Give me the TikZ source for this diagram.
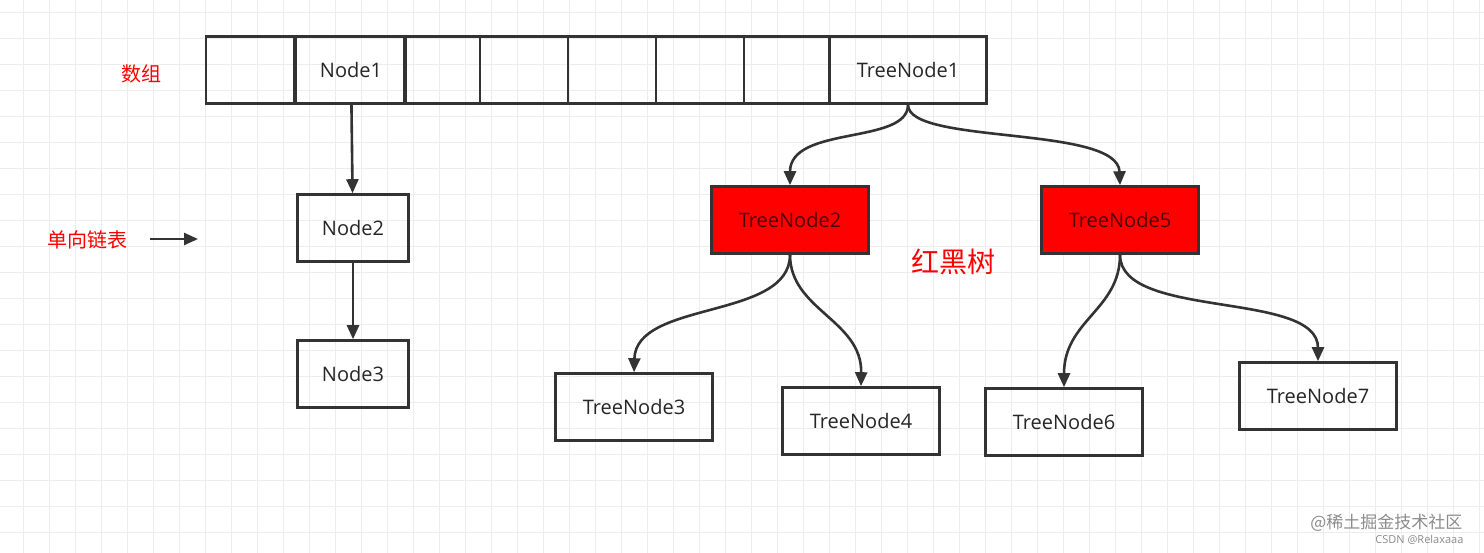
\documentclass[tikz,border=0pt]{standalone}
\usepackage{fontspec}
\setmainfont{Open Sans}
\newfontfamily\cjk{Noto Sans CJK SC}
\usetikzlibrary{arrows.meta}
\begin{document}
\begin{tikzpicture}[x=1pt,y=-1pt,
  box/.style={draw=black!80,line width=2.6pt,minimum width=#1,minimum height=67pt,inner sep=0pt,font=\fontsize{20}{24}\selectfont,text=black!85},
  box/.default=111pt,
  rbox/.style={box=157pt,fill=red,text=black!70!red},
  tbox/.style={box=157pt},
  arr/.style={draw=black!80,line width=2.6pt,-{Triangle[length=14pt,width=12pt]}},
  lab/.style={text=red,font=\cjk\fontsize{20}{24}\selectfont}]
\useasboundingbox (0,0) rectangle (1484,553);
\fill[white] (0,0) rectangle (1484,553);
\foreach \x in {23,49,...,1484} \draw[black!7,line width=0.8pt] (\x,0) -- (\x,553);
\foreach \y in {12,38,...,553} \draw[black!7,line width=0.8pt] (0,\y) -- (1484,\y);
% array
\node[box=88pt] (a0) at (250,70) {};
\node[box=76pt] (a2) at (442,70) {};
\node[box=88pt] (a3) at (524,70) {};
\node[box=88pt] (a4) at (612,70) {};
\node[box=88pt] (a5) at (700,70) {};
\node[box=86pt] (a6) at (787,70) {};
\node[tbox] (t1) at (908,70) {TreeNode1};
\node[box=110pt] (n1) at (351,70) {Node1};
\node[box] (n2) at (353,228) {Node2};
\node[box] (n3) at (353,374) {Node3};
\node[rbox] (t2) at (790,220) {TreeNode2};
\node[rbox] (t5) at (1120,220) {TreeNode5};
\node[tbox] (t3) at (634,407) {TreeNode3};
\node[tbox] (t4) at (861,421) {TreeNode4};
\node[tbox] (t6) at (1064,422) {TreeNode6};
\node[tbox] (t7) at (1318,396) {TreeNode7};
\draw[arr] (n1) -- (n2);
\draw[arr] (n2) -- (n3);
\draw[arr] (t1.south) .. controls (908,145) and (790,125) .. (t2.north);
\draw[arr] (t1.south) .. controls (908,145) and (1118,125) .. (t5.north);
\draw[arr] (t2.south) .. controls (790,320) and (636,300) .. (t3.north);
\draw[arr] (t2.south) .. controls (790,310) and (862,320) .. (t4.north);
\draw[arr] (t5.south) .. controls (1120,310) and (1064,320) .. (t6.north);
\draw[arr] (t5.south) .. controls (1120,320) and (1318,290) .. (t7.north);
\node[lab] (l1) at (141,74) {数组};
\node[lab] (l2) at (87,240) {单向链表};
\coordinate (p1) at (150,239);
\coordinate (p2) at (198,239);
\draw[draw=black!80,line width=2.4pt,-{Triangle[length=14pt,width=12pt]}] (p1) -- (p2);
\node[text=red,font=\cjk\fontsize{28}{32}\selectfont] (l3) at (953,262) {红黑树};
\node[text=black!45,font=\cjk\fontsize{17}{20}\selectfont,anchor=east] (w1) at (1466,523) {@稀土掘金技术社区};
\node[text=black!45,font=\fontsize{11}{13}\selectfont,anchor=east] (w2) at (1467,540) {CSDN @Relaxaaa};
\end{tikzpicture}
\end{document}
